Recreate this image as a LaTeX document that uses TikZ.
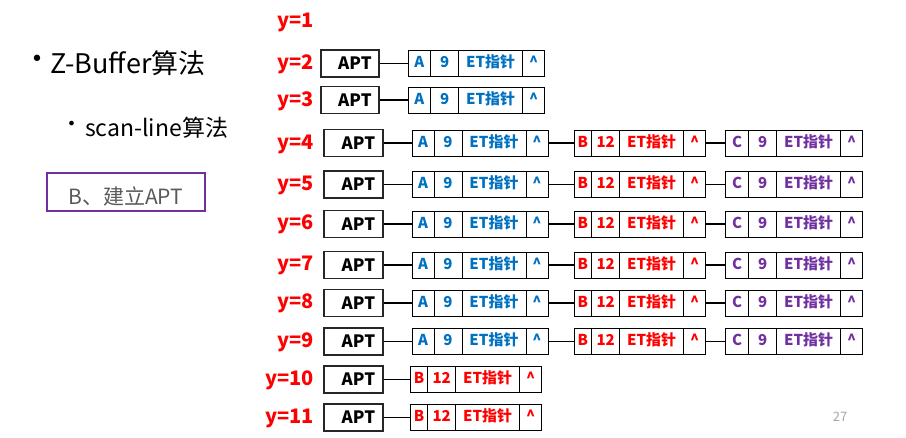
\documentclass[tikz,border=0pt]{standalone}
\usepackage{fontspec}
\setmainfont{Noto Sans CJK SC}
\newfontfamily\bulfont{DejaVu Sans}
\usepackage{tikz}
\usetikzlibrary{positioning}
\definecolor{etblue}{HTML}{0070C0}
\definecolor{etred}{HTML}{FF0000}
\definecolor{etpurple}{HTML}{7030A0}
\definecolor{notegray}{HTML}{595959}
\definecolor{pagegray}{HTML}{A6A6A6}
\tikzset{
	ylab/.style={text=etred, font=\fontsize{20}{20}\selectfont\bfseries, anchor=east, inner sep=0pt},
	aptbox/.style={draw=black!85, line width=1.6pt, minimum height=27pt, inner sep=0pt, font=\fontsize{17}{17}\selectfont\bfseries},
	etcell/.style={draw, line width=0.8pt, minimum height=26pt, inner sep=0pt, outer sep=0pt, text height=11pt, text depth=2.5pt, font=\fontsize{15}{15}\selectfont\bfseries},
	link/.style={line width=1.5pt},
	bullet/.style={inner sep=0pt, font=\bulfont},
}
\def\etrec#1(#2)#3#4#5#6{%
	\node[etcell, text=#3, minimum width=#4, anchor=west] (#1a) at (#2) {#5};
	\node[etcell, text=#3, minimum width=28pt, right=0pt of #1a] (#1b) {#6};
	\node[etcell, text=#3, minimum width=64pt, right=0pt of #1b] (#1c) {ET指针};
	\node[etcell, text=#3, minimum width=22pt, right=0pt of #1c] (#1d) {\textasciicircum};
}

\begin{document}
\begin{tikzpicture}[x=1pt, y=-1pt]
			%%%%% START %%%%%
			\useasboundingbox (0, 0) rectangle (906, 437);
			
			\node[bullet, font=\bulfont\fontsize{22}{22}\selectfont] (bul1) at (37, 61) {•};
			\node[font=\fontsize{27}{27}\selectfont, anchor=west, inner sep=0pt] (zbuf) at (50, 63) {Z-Buffer算法};
			\node[bullet, font=\bulfont\fontsize{16}{16}\selectfont] (bul2) at (71.5, 125.5) {•};
			\node[font=\fontsize{23}{23}\selectfont, anchor=west, inner sep=0pt] (scan) at (85, 128) {scan-line算法};
			\node[draw=etpurple, color=etpurple, line width=2pt, minimum width=158pt, minimum height=38pt, text=notegray, text height=27.6pt, text depth=2pt, font=\fontsize{21}{21}\selectfont] (stepbox) at (125.7, 191.7) {B、建立APT};
			
			\node[ylab] (l1) at (314, 22) {y=1};
			
			\node[ylab] (l2) at (314, 64) {y=2};
			\node[aptbox, minimum width=58pt] (apt2) at (350, 63.5) {\hspace*{10pt}APT};
			\etrec{r2A}(408, 63.5){etblue}{22.7pt}{A}{9}
			\draw[link] (apt2) -- (r2Aa);
			
			\node[ylab] (l3) at (314, 101) {y=3};
			\node[aptbox, minimum width=58pt] (apt3) at (350, 100) {\hspace*{10pt}APT};
			\etrec{r3A}(408, 100){etblue}{22.7pt}{A}{9}
			\draw[link] (apt3) -- (r3Aa);
			
			\node[ylab] (l4) at (314, 144) {y=4};
			\node[aptbox, minimum width=59pt] (apt4) at (353.5, 143) {\hspace*{10pt}APT};
			\etrec{r4A}(412, 143){etblue}{22pt}{A}{9}
			\etrec{r4B}(574, 143){etred}{17.7pt}{B}{12}
			\etrec{r4C}(725.7, 143){etpurple}{23pt}{C}{9}
			\draw[link] (apt4) -- (r4Aa);
			\draw[link] (r4Ad) -- (r4Ba);
			\draw[link] (r4Bd) -- (r4Ca);
			
			\node[ylab] (l5) at (314, 185) {y=5};
			\node[aptbox, minimum width=59pt] (apt5) at (353.5, 184.5) {\hspace*{10pt}APT};
			\etrec{r5A}(412, 184.5){etblue}{22pt}{A}{9}
			\etrec{r5B}(574, 184.5){etred}{17.7pt}{B}{12}
			\etrec{r5C}(725.7, 184.5){etpurple}{23pt}{C}{9}
			\draw[link] (apt5) -- (r5Aa);
			\draw[link] (r5Ad) -- (r5Ba);
			\draw[link] (r5Bd) -- (r5Ca);
			
			\node[ylab] (l6) at (314, 224.5) {y=6};
			\node[aptbox, minimum width=59pt] (apt6) at (353.5, 224) {\hspace*{10pt}APT};
			\etrec{r6A}(412, 224){etblue}{22pt}{A}{9}
			\etrec{r6B}(574, 224){etred}{17.7pt}{B}{12}
			\etrec{r6C}(725.7, 224){etpurple}{23pt}{C}{9}
			\draw[link] (apt6) -- (r6Aa);
			\draw[link] (r6Ad) -- (r6Ba);
			\draw[link] (r6Bd) -- (r6Ca);
			
			\node[ylab] (l7) at (314, 265.5) {y=7};
			\node[aptbox, minimum width=59pt] (apt7) at (353.5, 265) {\hspace*{10pt}APT};
			\etrec{r7A}(412, 265){etblue}{22pt}{A}{9}
			\etrec{r7B}(574, 265){etred}{17.7pt}{B}{12}
			\etrec{r7C}(725.7, 265){etpurple}{23pt}{C}{9}
			\draw[link] (apt7) -- (r7Aa);
			\draw[link] (r7Ad) -- (r7Ba);
			\draw[link] (r7Bd) -- (r7Ca);
			
			\node[ylab] (l8) at (314, 303.5) {y=8};
			\node[aptbox, minimum width=59pt] (apt8) at (353.5, 303) {\hspace*{10pt}APT};
			\etrec{r8A}(412, 303){etblue}{22pt}{A}{9}
			\etrec{r8B}(574, 303){etred}{17.7pt}{B}{12}
			\etrec{r8C}(725.7, 303){etpurple}{23pt}{C}{9}
			\draw[link] (apt8) -- (r8Aa);
			\draw[link] (r8Ad) -- (r8Ba);
			\draw[link] (r8Bd) -- (r8Ca);
			
			\node[ylab] (l9) at (314, 342) {y=9};
			\node[aptbox, minimum width=59pt] (apt9) at (353.5, 341.5) {\hspace*{10pt}APT};
			\etrec{r9A}(412, 341.5){etblue}{22pt}{A}{9}
			\etrec{r9B}(574, 341.5){etred}{17.7pt}{B}{12}
			\etrec{r9C}(725.7, 341.5){etpurple}{23pt}{C}{9}
			\draw[link] (apt9) -- (r9Aa);
			\draw[link] (r9Ad) -- (r9Ba);
			\draw[link] (r9Bd) -- (r9Ca);
			
			\node[ylab] (l10) at (314, 380) {y=10};
			\node[aptbox, minimum width=59pt] (apt10) at (353.5, 379.5) {\hspace*{10pt}APT};
			\etrec{r10B}(410.7, 379.5){etred}{17pt}{B}{12}
			\draw[link] (apt10) -- (r10Ba);
			
			\node[ylab] (l11) at (314, 418) {y=11};
			\node[aptbox, minimum width=59pt] (apt11) at (353.5, 417.5) {\hspace*{10pt}APT};
			\etrec{r11B}(410.7, 417.5){etred}{17pt}{B}{12}
			\draw[link] (apt11) -- (r11Ba);
			
			\node[text=pagegray, font=\fontsize{13}{13}\selectfont] (pg) at (840, 416.5) {27};
			
			%%%%% END %%%%%
		\end{tikzpicture}
\end{document}
